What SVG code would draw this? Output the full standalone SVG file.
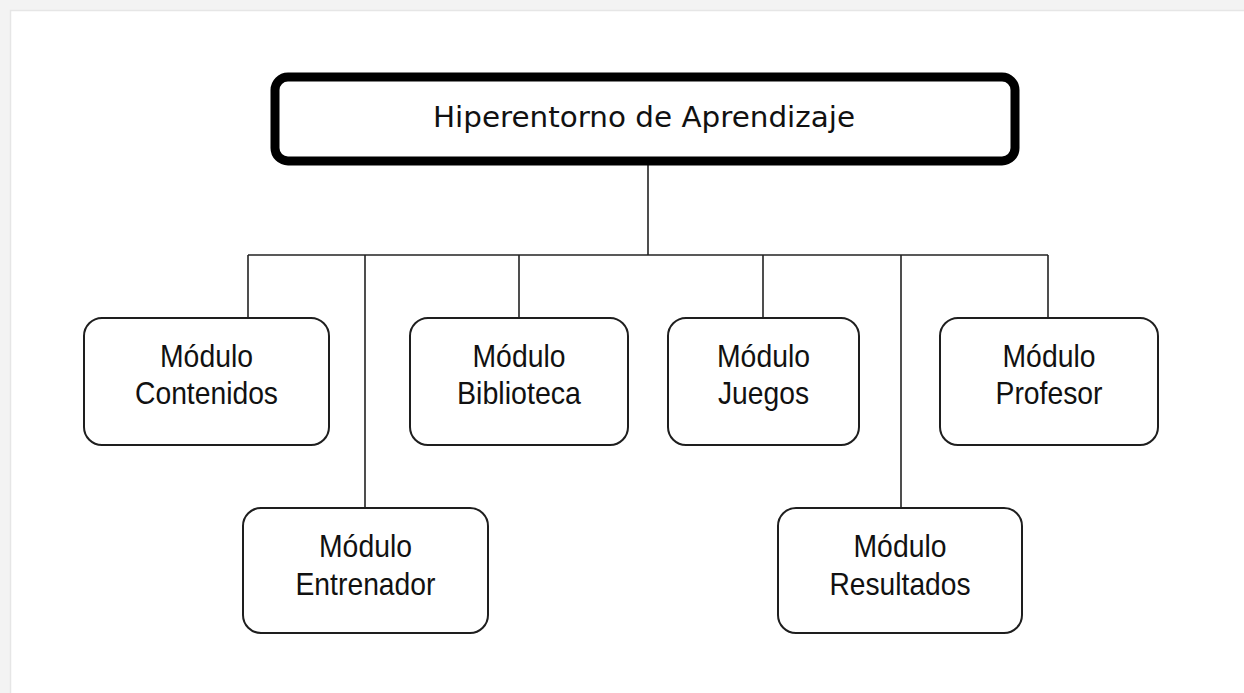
<svg xmlns="http://www.w3.org/2000/svg" width="1244" height="693" viewBox="0 0 1244 693">
<style>
.frame{fill:#f3f3f3}
.frameline{stroke:#e6e6e6;stroke-width:1.5;fill:none}
.root{fill:#fff;stroke:#000;stroke-width:9}
.box{fill:#fff;stroke:#1e1e1e;stroke-width:2}
.conn{stroke:#222;stroke-width:1.6;fill:none}
.title{font-family:"DejaVu Sans",Verdana,sans-serif;font-size:29px;fill:#111;text-anchor:middle}
.lbl{font-family:"Liberation Sans",Arial,sans-serif;font-size:32px;fill:#111;text-anchor:middle}
</style>
<rect width="1244" height="693" fill="#fff"/>
<rect class="frame" x="0" y="0" width="1244" height="10"/>
<rect class="frame" x="0" y="0" width="10" height="693"/>
<path class="frameline" d="M10.5 693V10.5H1244"/>
<g id="connectors">
<path class="conn" d="M648 165V255"/>
<path class="conn" d="M248 255H1048"/>
<path class="conn" d="M248 255V318"/>
<path class="conn" d="M365 255V508"/>
<path class="conn" d="M519 255V318"/>
<path class="conn" d="M763 255V318"/>
<path class="conn" d="M901 255V508"/>
<path class="conn" d="M1048 255V318"/>
</g>
<g id="root">
<rect class="root" x="275" y="77" width="740" height="84" rx="13"/>
<text class="title" x="644" y="127" textLength="422" lengthAdjust="spacingAndGlyphs">Hiperentorno de Aprendizaje</text>
</g>
<g id="contenidos">
<rect class="box" x="84" y="318" width="245" height="127" rx="18"/>
<text class="lbl" x="206.5" y="367" textLength="93" lengthAdjust="spacingAndGlyphs">Módulo</text>
<text class="lbl" x="206.5" y="404" textLength="143" lengthAdjust="spacingAndGlyphs">Contenidos</text>
</g>
<g id="biblioteca">
<rect class="box" x="410" y="318" width="218" height="127" rx="18"/>
<text class="lbl" x="519" y="367" textLength="93" lengthAdjust="spacingAndGlyphs">Módulo</text>
<text class="lbl" x="519" y="404" textLength="124" lengthAdjust="spacingAndGlyphs">Biblioteca</text>
</g>
<g id="juegos">
<rect class="box" x="668" y="318" width="191" height="127" rx="18"/>
<text class="lbl" x="763.5" y="367" textLength="93" lengthAdjust="spacingAndGlyphs">Módulo</text>
<text class="lbl" x="763.5" y="404" textLength="91" lengthAdjust="spacingAndGlyphs">Juegos</text>
</g>
<g id="profesor">
<rect class="box" x="940" y="318" width="218" height="127" rx="18"/>
<text class="lbl" x="1049" y="367" textLength="93" lengthAdjust="spacingAndGlyphs">Módulo</text>
<text class="lbl" x="1049" y="404" textLength="107" lengthAdjust="spacingAndGlyphs">Profesor</text>
</g>
<g id="entrenador">
<rect class="box" x="243" y="508" width="245" height="125" rx="18"/>
<text class="lbl" x="365.5" y="557" textLength="93" lengthAdjust="spacingAndGlyphs">Módulo</text>
<text class="lbl" x="365.5" y="595" textLength="140" lengthAdjust="spacingAndGlyphs">Entrenador</text>
</g>
<g id="resultados">
<rect class="box" x="778" y="508" width="244" height="125" rx="18"/>
<text class="lbl" x="900" y="557" textLength="93" lengthAdjust="spacingAndGlyphs">Módulo</text>
<text class="lbl" x="900" y="595" textLength="141" lengthAdjust="spacingAndGlyphs">Resultados</text>
</g>
</svg>
